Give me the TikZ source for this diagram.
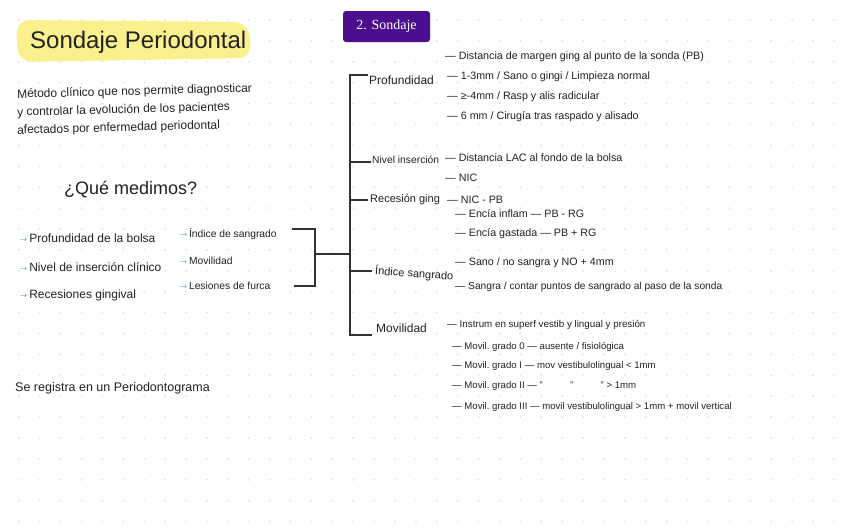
\documentclass[tikz,border=0pt]{standalone}
\usepackage{fontspec}
\setmainfont{Liberation Sans}
\newfontfamily\symfont{DejaVu Sans}
\newfontfamily\tagfont{Liberation Serif}
\usetikzlibrary{positioning}
\definecolor{ink}{HTML}{222222}
\definecolor{marker}{HTML}{FAF08C}
\definecolor{tagpurple}{HTML}{4B0E8E}
\definecolor{griddot}{HTML}{E2E2E2}
\definecolor{pointblue}{HTML}{7FB2E5}
\definecolor{branch}{HTML}{333333}
\newcommand{\bulletarrow}{{\color{pointblue}\symfont\fontsize{8.5}{9}\selectfont →}\,}
\tikzset{
  hand/.style={anchor=west, inner sep=0pt, text=ink},
  title/.style={hand, font=\fontsize{24}{28}\selectfont},
  para/.style={hand, font=\fontsize{12}{14}\selectfont, rotate=1.5},
  topic/.style={hand, font=\fontsize{12}{14}\selectfont},
  keypoint/.style={hand, font=\fontsize{10.3}{12}\selectfont},
  rtopic/.style={hand, font=\fontsize{11}{13}\selectfont},
  detail/.style={hand, font=\fontsize{10.7}{12}\selectfont},
  grade/.style={hand, font=\fontsize{9.6}{11}\selectfont},
  bracket/.style={draw=branch, line width=1.1pt},
}

\begin{document}
\begin{tikzpicture}[x=1pt, y=-1pt]
  \useasboundingbox[fill=white] (0,0) rectangle (848,530);
  % dot grid
  \foreach \i in {0,...,39}
    \foreach \j in {0,...,24}
      \fill[griddot] (18.8+20.9*\i, 20+20.9*\j) circle (1pt);
  % title with marker
  \fill[marker, rounded corners=14pt] (16,20) -- (248,22) -- (252,58) -- (18,62) -- cycle;
  \node[title] (title) at (30,42) {Sondaje Periodontal};
  \node[fill=tagpurple, rounded corners=3pt, text=white, inner sep=0pt,
        minimum width=87pt, minimum height=31pt,
        font=\tagfont\fontsize{14}{16}\selectfont] (tag) at (386.5,26.5) {2. Sondaje};
  % definition
  \node[para] (def1) at (17,95) {Método clínico que nos permite diagnosticar};
  \node[para] (def2) at (17,113) {y controlar la evolución de los pacientes};
  \node[para] (def3) at (17,131) {afectados por enfermedad periodontal};
  \node[hand, font=\fontsize{18}{20}\selectfont] (ask) at (64,190) {¿Qué medimos?};
  % what we measure
  \node[topic] (bolsa) at (20,238) {\bulletarrow Profundidad de la bolsa};
  \node[topic] (insercion) at (20,267) {\bulletarrow Nivel de inserción clínico};
  \node[topic] (recesiones) at (20,295) {\bulletarrow Recesiones gingival};
  \node[keypoint] (indice) at (180,234) {\bulletarrow Índice de sangrado};
  \node[keypoint] (movilidad) at (180,261) {\bulletarrow Movilidad};
  \node[keypoint] (furca) at (180,286) {\bulletarrow Lesiones de furca};
  % bracket and trunk
  \coordinate (brtop) at (292,229);
  \coordinate (brbot) at (294,286);
  \coordinate (jleft) at (315,254);
  \coordinate (trunk) at (350,254);
  \draw[bracket] (brtop) -| (jleft) |- (brbot);
  \draw[bracket] (jleft) -- (trunk);
  % branches
  \node[topic] (prof) at (369,80) {Profundidad};
  \node[rtopic, font=\fontsize{10.3}{12}\selectfont] (niv) at (372,160) {Nivel inserción};
  \node[rtopic] (rec) at (370,200) {Recesión ging};
  \node[rtopic, rotate=-4] (ind) at (375,271) {Índice sangrado};
  \node[topic] (mov) at (376,328) {Movilidad};
  \coordinate (tprof) at (368,75);
  \coordinate (tniv) at (371,162);
  \coordinate (trec) at (368,200);
  \coordinate (tind) at (372,271);
  \coordinate (tmov) at (372,335);
  \draw[bracket] (tprof) -| (trunk) |- (tmov);
  \draw[bracket] (trunk |- tniv) -- (tniv);
  \draw[bracket] (trunk |- trec) -- (trec);
  \draw[bracket] (trunk |- tind) -- (tind);
  % details
  \node[detail] (prof1) at (445,57) {— Distancia de margen ging al punto de la sonda (PB)};
  \node[detail] (prof2) at (447,77) {— 1-3mm / Sano o gingi / Limpieza normal};
  \node[detail] (prof3) at (447,97) {— ≥-4mm / Rasp y alis radicular};
  \node[detail] (prof4) at (447,117) {— 6 mm / Cirugía tras raspado y alisado};
  \node[detail] (niv1) at (445,158) {— Distancia LAC al fondo de la bolsa};
  \node[detail] (niv2) at (445,178) {— NIC};
  \node[detail] (rec1) at (447,200) {— NIC - PB};
  \node[detail] (rec2) at (455,214) {— Encía inflam — PB - RG};
  \node[detail] (rec3) at (455,234) {— Encía gastada — PB + RG};
  \node[detail] (ind1) at (455,263) {— Sano / no sangra y NO + 4mm};
  \node[detail, font=\fontsize{10.2}{12}\selectfont] (ind2) at (455,287) {— Sangra / contar puntos de sangrado al paso de la sonda};
  \node[detail, font=\fontsize{9.8}{12}\selectfont] (mov1) at (447,325) {— Instrum en superf vestib y lingual y presión};
  \node[grade] (mov2) at (452,347) {— Movil.\ grado 0 — ausente / fisiológica};
  \node[grade] (mov3) at (452,366) {— Movil.\ grado I — mov vestibulolingual < 1mm};
  \node[grade] (mov4) at (452,386) {— Movil.\ grado II — ” \hspace{22pt} ” \hspace{22pt} ” > 1mm};
  \node[grade] (mov5) at (452,407) {— Movil.\ grado III — movil vestibulolingual > 1mm + movil vertical};
  % footer note
  \node[hand, font=\fontsize{12.5}{14}\selectfont] (regist) at (15,388) {Se registra en un Periodontograma};
\end{tikzpicture}
\end{document}
